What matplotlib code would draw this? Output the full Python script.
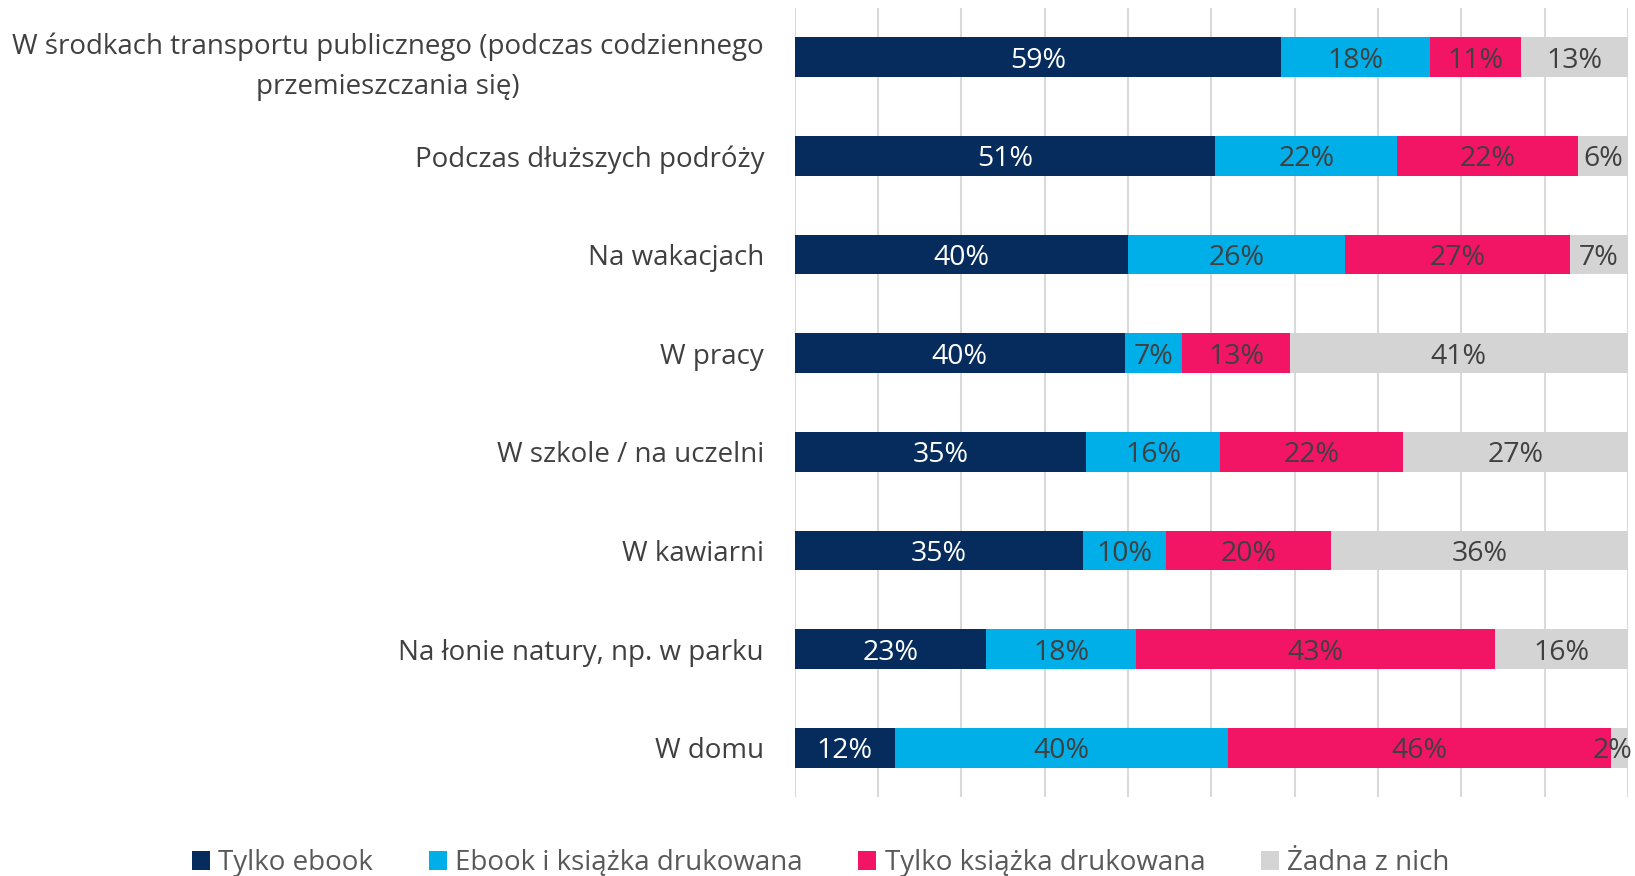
import matplotlib.pyplot as plt
import numpy as np

plt.rcParams['font.family'] = ['Open Sans', 'DejaVu Sans']

categories = [
    'W środkach transportu publicznego (podczas codziennego\nprzemieszczania się)',
    'Podczas dłuższych podróży',
    'Na wakacjach',
    'W pracy',
    'W szkole / na uczelni',
    'W kawiarni',
    'Na łonie natury, np. w parku',
    'W domu',
]
series = ['Tylko ebook', 'Ebook i książka drukowana', 'Tylko książka drukowana', 'Żadna z nich']
tylko_ebook = [59, 51, 40, 40, 35, 35, 23, 12]
ebook_i_ksiazka = [18, 22, 26, 7, 16, 10, 18, 40]
tylko_ksiazka = [11, 22, 27, 13, 22, 20, 43, 46]
zadna = [13, 6, 7, 41, 27, 36, 16, 2]

colors = ['#062C5E', '#00AEE8', '#F21566', '#D4D4D4']
text_colors = ['white', '#404040', '#404040', '#404040']

data = np.array([tylko_ebook, ebook_i_ksiazka, tylko_ksiazka, zadna], dtype=float)
shares = data / data.sum(axis=0) * 100  # 100% stacked

fig = plt.figure(figsize=(16.35, 8.76), dpi=100)
ax = fig.add_axes([0.486, 0.090, 0.5097, 0.901])

y = np.arange(len(categories))
left = np.zeros(len(categories))
for i, name in enumerate(series):
    bars = ax.barh(y, shares[i], left=left, height=0.4, color=colors[i],
                   label=name, zorder=3)
    for j, b in enumerate(bars):
        xc = left[j] + shares[i][j] / 2
        # tiny last segment: keep the label inside the figure
        xc = min(xc, 98.2)
        ax.text(xc, y[j], f'{int(data[i][j])}%',
                ha='center', va='center_baseline', fontsize=20.5,
                color=text_colors[i], zorder=4)
    left += shares[i]

ax.set_xlim(0, 100)
ax.set_ylim(len(categories) - 0.5, -0.5)
ax.set_xticks(np.arange(0, 101, 10))
ax.set_xticklabels([])
ax.tick_params(axis='x', length=0)
ax.tick_params(axis='y', length=0, pad=22)
ax.set_yticks(y)
ax.set_yticklabels(categories, fontsize=20, color='#404040',
                   multialignment='center', linespacing=1.55)
ax.grid(axis='x', color='#D9D9D9', linewidth=1.5, zorder=0)
for s in ax.spines.values():
    s.set_visible(False)

fig.legend(loc='lower center', bbox_to_anchor=(0.502, -0.03), ncol=4, frameon=False,
           fontsize=20, handlelength=0.65, handleheight=0.65, handletextpad=0.3,
           columnspacing=2.0, labelcolor='#595959')

fig.savefig('out.png', dpi=100)
